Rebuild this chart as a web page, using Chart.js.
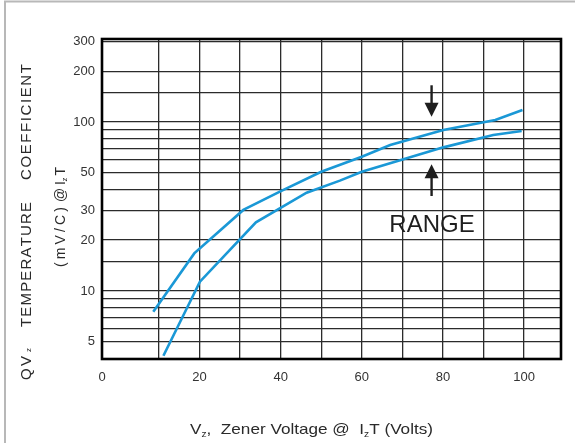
<!DOCTYPE html>
<html>
<head>
<meta charset="utf-8">
<script src="https://cdn.jsdelivr.net/npm/chart.js@4.4.1/dist/chart.umd.min.js"></script>
<style>
html,body{margin:0;padding:0;background:#fff;}
#wrap{width:575px;height:443px;position:relative;}
canvas{display:block;}
</style>
</head>
<body>
<div id="wrap"><canvas id="c" width="575" height="443" style="width:575px;height:443px;"></canvas></div>
<script>
// ---- data ----
const upperX = [8.6, 18.7, 30.8, 39.8, 50.0, 60.0, 67.0, 80.1, 92.9, 99.6];
const upperY = [7.54, 16.7, 30.2, 38.7, 50.8, 62.3, 73.1, 89.7, 102.8, 117.8];
const lowerX = [11.1, 20.1, 33.9, 46.4, 54.6, 60.0, 80.1, 92.4, 99.4];
const lowerY = [4.14, 11.35, 25.5, 38.2, 45.0, 50.8, 70.8, 83.8, 88.5];

const xGridValues = [10, 20, 30, 40, 50, 60, 70, 80, 90, 100];
const xTickLabels = ['0', '20', '40', '60', '80', '100'];
const yGridValues = [5, 6, 7, 8, 9, 10, 15, 20, 30, 40, 50, 60, 70, 80, 90, 100, 150, 200, 300];
const yTickLabels = ['5', '10', '20', '30', '50', '100', '200', '300'];

const X_MIN = -4.04, X_MAX = 109.1;
const Y_MIN = 3.96, Y_MAX = 310;

// annotation anchors (data space)
const rangeText = 'RANGE';
const rangePos = {x: 77.3, y: 24.6};
const downArrow = {x: 77.2, from: 165, to: 107.5};
const upArrow = {x: 77.2, from: 36.5, to: 56.2};

const LINE_COLOR = '#1a98d6';
const FONT = '"Liberation Sans", Arial, sans-serif';

function toPts(xs, ys) { return xs.map((x, i) => ({x: x, y: ys[i]})); }
function spacedText(ctx, text, x, y, spacing) {
  for (const ch of text) { ctx.fillText(ch, x, y); x += ctx.measureText(ch).width + spacing; }
  return x;
}
function naturalWidth(ctx, text) { let w = 0; for (const ch of text) w += ctx.measureText(ch).width; return w; }
function fitWord(ctx, text, x, y, width) {
  const n = [...text].length;
  const sp = n > 1 ? (width - naturalWidth(ctx, text)) / (n - 1) : 0;
  return spacedText(ctx, text, x, y, sp);
}
function arrow(ctx, x, y1, y2) {
  const dir = y2 > y1 ? 1 : -1;
  const head = 14, half = 7;
  ctx.beginPath(); ctx.moveTo(x, y1); ctx.lineTo(x, y2 - dir * head + dir * 1); ctx.stroke();
  ctx.beginPath(); ctx.moveTo(x - half, y2 - dir * head); ctx.lineTo(x + half, y2 - dir * head); ctx.lineTo(x, y2); ctx.closePath(); ctx.fill();
}

const decor = {
  id: 'decor',
  beforeDraw(chart) {
    const ctx = chart.ctx;
    ctx.save();
    ctx.fillStyle = '#fff';
    ctx.fillRect(0, 0, chart.width, chart.height);
    ctx.strokeStyle = '#b8b8b8'; ctx.lineWidth = 2;
    ctx.beginPath(); ctx.moveTo(5, chart.height); ctx.lineTo(5, 1.5); ctx.lineTo(chart.width, 1.5); ctx.stroke();
    ctx.restore();
  },
  beforeDatasetsDraw(chart) {
    const ctx = chart.ctx, a = chart.chartArea;
    ctx.save(); ctx.strokeStyle = '#000'; ctx.lineWidth = 2.6;
    ctx.strokeRect(a.left, a.top, a.right - a.left, a.bottom - a.top); ctx.restore();
  },
  afterDatasetsDraw(chart) {
    const ctx = chart.ctx, xs = chart.scales.x, ys = chart.scales.y;
    ctx.save(); ctx.fillStyle = '#1e1e1e'; ctx.strokeStyle = '#1e1e1e'; ctx.lineWidth = 2.4;
    arrow(ctx, xs.getPixelForValue(downArrow.x), ys.getPixelForValue(downArrow.from), ys.getPixelForValue(downArrow.to));
    arrow(ctx, xs.getPixelForValue(upArrow.x), ys.getPixelForValue(upArrow.from), ys.getPixelForValue(upArrow.to));
    ctx.font = '24px ' + FONT; ctx.textAlign = 'center'; ctx.textBaseline = 'middle';
    ctx.fillText(rangeText, xs.getPixelForValue(rangePos.x), ys.getPixelForValue(rangePos.y));
    ctx.restore();
  },
  afterDraw(chart) {
    const ctx = chart.ctx;
    ctx.save(); ctx.fillStyle = '#2a2a2a'; ctx.textAlign = 'left'; ctx.textBaseline = 'alphabetic';

    // y title, line 1
    ctx.save(); ctx.translate(31, 380); ctx.rotate(-Math.PI / 2);
    ctx.font = '15px ' + FONT; spacedText(ctx, 'Q', 0, 0, 0); spacedText(ctx, 'V', 14, 0, 0);
    ctx.font = '8px ' + FONT; ctx.fillText('z', 28, 0);
    ctx.font = '15px ' + FONT;
    fitWord(ctx, 'TEMPERATURE', 53, 0, 135 - ctx.measureText('E').width);
    fitWord(ctx, 'COEFFICIENT', 200, 0, 125 - ctx.measureText('T').width);
    ctx.restore();

    // y title, line 2
    ctx.save(); ctx.translate(64.5, 267); ctx.rotate(-Math.PI / 2);
    ctx.font = '14px ' + FONT; fitWord(ctx, '(mV/C)', 0, 0, 60);
    ctx.fillText('@', 65, 0); ctx.fillText('I', 82, 0);
    ctx.font = '8px ' + FONT; ctx.fillText('z', 85.5, 2);
    ctx.font = '14px ' + FONT; ctx.fillText('T', 91.5, 0);
    ctx.restore();

    // x title
    ctx.save();
    const parts = [['V', 15, 0], ['z', 9, 3], [',  Zener Voltage @  ', 15, 0], ['I', 15, 0], ['z', 9, 3], ['T (Volts)', 15, 0]];
    let total = 0;
    for (const p of parts) { ctx.font = p[1] + 'px ' + FONT; total += ctx.measureText(p[0]).width; }
    ctx.translate(190, 434); ctx.scale(243 / total, 1);
    let x = 0;
    for (const p of parts) { ctx.font = p[1] + 'px ' + FONT; ctx.fillText(p[0], x, p[2]); x += ctx.measureText(p[0]).width; }
    ctx.restore();
    ctx.restore();
  }
};

new Chart(document.getElementById('c'), {
  type: 'line',
  data: {
    datasets: [
      {label: 'Upper', data: toPts(upperX, upperY), borderColor: LINE_COLOR, borderWidth: 2.6, pointRadius: 0, tension: 0, fill: false},
      {label: 'Lower', data: toPts(lowerX, lowerY), borderColor: LINE_COLOR, borderWidth: 2.6, pointRadius: 0, tension: 0, fill: false}
    ]
  },
  options: {
    responsive: false, maintainAspectRatio: false, animation: false,
    layout: {padding: {left: 0, top: 39, right: 14, bottom: 0}},
    plugins: {legend: {display: false}, tooltip: {enabled: false}, title: {display: false}},
    scales: {
      x: {
        type: 'linear', min: X_MIN, max: X_MAX,
        afterBuildTicks(s) { s.ticks = [{value: X_MIN}].concat(xGridValues.map(v => ({value: v}))); },
        afterFit(s) { s.height = 84; },
        grid: {color: '#2b2b2b', lineWidth: 1.3, drawTicks: false},
        border: {display: false},
        ticks: {autoSkip: false, maxRotation: 0, padding: 11, color: '#333', font: {family: FONT, size: 13},
          callback(v) { if (v === X_MIN) return xTickLabels[0]; const s = String(v); return xTickLabels.includes(s) ? s : ''; }}
      },
      y: {
        type: 'logarithmic', min: Y_MIN, max: Y_MAX,
        afterBuildTicks(s) { s.ticks = yGridValues.map(v => ({value: v})); },
        afterFit(s) { s.width = 102; },
        grid: {color: '#2b2b2b', lineWidth: 1.3, drawTicks: false},
        border: {display: false},
        ticks: {autoSkip: false, padding: 7, color: '#333', font: {family: FONT, size: 13},
          callback(v) { const s = String(v); return yTickLabels.includes(s) ? s : ''; }}
      }
    }
  },
  plugins: [decor]
});
</script>
</body>
</html>
